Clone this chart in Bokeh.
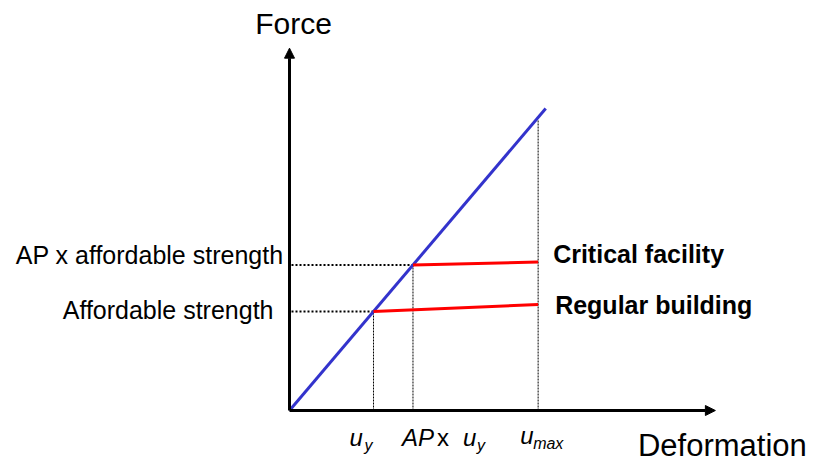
from bokeh.plotting import figure
from bokeh.models import Range1d, Arrow, NormalHead
from bokeh.core.properties import value
from bokeh.embed import file_html
from bokeh.resources import INLINE

# ---------------- data (schematic units: u_y = 1, affordable strength = 1) -------------
u_y = 1.0
ap_factor = 1.47
u_max = 2.96
deformation_ticks = [u_y, ap_factor * u_y, u_max]
affordable_strength = 1.0
strength_levels = [affordable_strength, ap_factor * affordable_strength]
strength_labels = ["Affordable strength", "AP x affordable strength"]

elastic_x = [0.0, 3.05]
elastic_y = [0.0, 3.05]
regular_x = [u_y, u_max]
regular_y = [1.0, 1.07]
critical_x = [ap_factor * u_y, u_max]
critical_y = [1.47, 1.50]
series_names = ["Regular building", "Critical facility"]
umax_guide_top = 2.93

axis_x_end = 5.07
axis_y_end = 3.66
x_title = "Deformation"
y_title = "Force"

# ---------------- figure ----------------
W, H = 814, 462
PXX, PXY = 84.0, 99.0          # pixels per unit
OX, OY = 289, 52               # origin in pixels (from left, from bottom)
dx = lambda px: px / PXX
dy = lambda px: px / PXY
LIFT = 8                       # baseline correction in pixels

p = figure(width=W, height=H,
           x_range=Range1d(-OX / PXX, (W - OX) / PXX),
           y_range=Range1d(-OY / PXY, (H - OY) / PXY),
           x_axis_type=None, y_axis_type=None,
           output_backend="svg", toolbar_location=None, min_border=0)
p.grid.visible = False
p.outline_line_color = None
p.background_fill_color = "white"
p.border_fill_color = "white"

FONT = value("Liberation Sans")

# dotted guides: verticals
p.segment(x0=deformation_ticks, y0=[0, 0, 0], x1=deformation_ticks,
          y1=[affordable_strength, ap_factor * affordable_strength, umax_guide_top],
          line_color="black", line_width=1, line_dash="2 1")
# dotted guides: horizontals
p.segment(x0=[dx(2), dx(2)], y0=strength_levels,
          x1=deformation_ticks[:2], y1=strength_levels,
          line_color="black", line_width=2, line_dash="2 2")

# elastic line
p.line(elastic_x, elastic_y, line_color="#3333cc", line_width=3)
# strength plateaus
p.line(regular_x, regular_y, line_color="#ff0000", line_width=3)
p.line(critical_x, critical_y, line_color="#ff0000", line_width=3)

# axes with arrow heads
for xe, ye in [(axis_x_end, 0.0), (0.0, axis_y_end)]:
    p.add_layout(Arrow(end=NormalHead(size=10, fill_color="black", line_color="black"),
                       x_start=0.0, y_start=0.0, x_end=xe, y_end=ye,
                       line_color="black", line_width=3))

def txt(x, y, t, size, align="left", style="normal", baseline="alphabetic"):
    p.text(x=[x], y=[y + dy(LIFT)], text=[t], text_font=FONT, text_font_size=size,
           text_font_style=style, text_align=align, text_baseline=baseline,
           text_color="black")

# axis titles
txt(dx(4), axis_y_end + dy(17), y_title, "30px", align="center")
txt(axis_x_end + dx(7), -dy(43), x_title, "31px", align="center")

# strength labels
txt(-dx(16), strength_levels[0] - dy(6), strength_labels[0], "25px", align="right")
txt(-dx(6), strength_levels[1] + dy(2), strength_labels[1], "25px", align="right")

# series labels
txt(u_max + dx(17), regular_y[1] - dy(8), series_names[0], "25px", style="bold")
txt(u_max + dx(15), critical_y[1], series_names[1], "25px", style="bold")

# deformation tick labels
base_main = -dy(35)
base_sub = -dy(43)
t0, t1, t2 = deformation_ticks
txt(t0 - dx(24), base_main, "u", "24px", style="italic")
txt(t0 - dx(9), base_sub, "y", "16px", style="italic")

txt(t1 - dx(11), base_main, "AP", "24px", style="italic")
txt(t1 + dx(24), base_main, "x", "24px")
txt(t1 + dx(50), base_main, "u", "24px", style="italic")
txt(t1 + dx(64), base_sub, "y", "16px", style="italic")

txt(t2 - dx(18), base_main + dy(2), "u", "24px", style="italic")
txt(t2 - dx(5), base_sub + dy(2), "max", "16px", style="italic")

open("out.html", "w").write(file_html(p, INLINE))
